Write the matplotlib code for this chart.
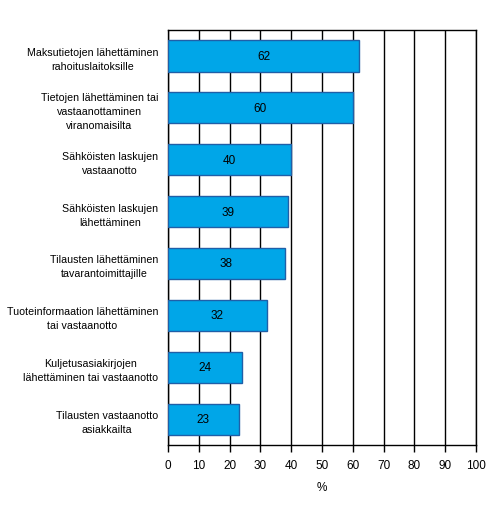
import matplotlib
matplotlib.use("Agg")
import matplotlib.pyplot as plt

categories = [
    "Maksutietojen lähettäminen\nrahoituslaitoksille",
    "Tietojen lähettäminen tai\nvastaanottaminen\nviranomaisilta",
    "Sähköisten laskujen\nvastaanotto",
    "Sähköisten laskujen\nlähettäminen",
    "Tilausten lähettäminen\ntavarantoimittajille",
    "Tuoteinformaation lähettäminen\ntai vastaanotto",
    "Kuljetusasiakirjojen\nlähettäminen tai vastaanotto",
    "Tilausten vastaanotto\nasiakkailta",
]
values = [62, 60, 40, 39, 38, 32, 24, 23]
xticks = [0, 10, 20, 30, 40, 50, 60, 70, 80, 90, 100]

plt.rcParams['font.family'] = ['Liberation Sans', 'DejaVu Sans']
plt.rcParams['font.size'] = 8

fig = plt.figure(figsize=(4.92, 5.06), dpi=100)
ax = fig.add_axes([168/492, 1-446/506, (476-168)/492, (446-31)/506])

n = len(categories)
ypos = list(range(n))
ax.barh(ypos, values, height=0.6, color='#00A6E8', edgecolor='#1F5FA8', linewidth=1, zorder=3)
for y, v in zip(ypos, values):
    ax.text(v/2, y, str(v), ha='center', va='center', fontsize=8.5, color='black', zorder=4)

ax.set_ylim(n-0.5, -0.5)
ax.set_xlim(0, 100)
ax.set_xticks(xticks)
ax.set_xticklabels([str(t) for t in xticks], fontsize=8.5)
ax.set_yticks(ypos)
ax.set_yticklabels(categories, ha='right', multialignment='center', linespacing=1.5, fontsize=7.7)
ax.tick_params(axis='y', length=0, pad=7)
ax.tick_params(axis='x', length=5, width=1, pad=5)
ax.xaxis.grid(True, color='black', linewidth=1, zorder=0)
ax.set_axisbelow(True)
for s in ax.spines.values():
    s.set_linewidth(1)
    s.set_color('black')
ax.set_xlabel('%', labelpad=7, fontsize=8.5)

fig.savefig('out.png', dpi=100)
